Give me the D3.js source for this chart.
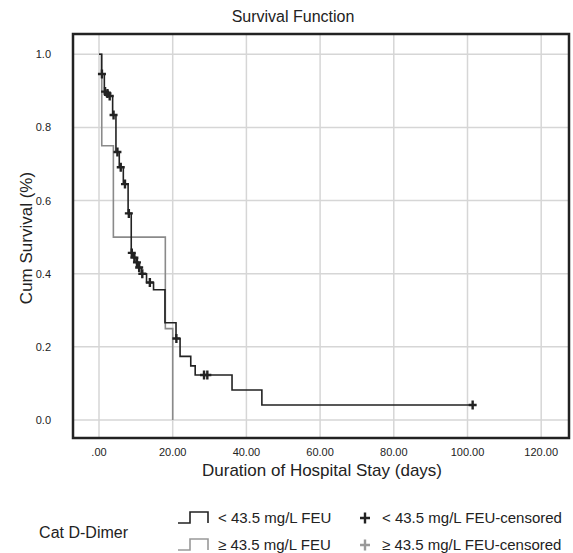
<!DOCTYPE html>
<html>
<head>
<meta charset="utf-8">
<script src="https://cdn.jsdelivr.net/npm/d3@7"></script>
<style>
  body { margin: 0; background: #fff; }
  text { font-family: "Liberation Sans", Arial, sans-serif; fill: #222; }
</style>
</head>
<body>
<svg width="573" height="553"></svg>
<script>
// tick values
var xTicks = [0, 20, 40, 60, 80, 100, 120];
var yTicks = [0, 0.2, 0.4, 0.6, 0.8, 1.0];

// < 43.5 mg/L FEU : step times and survival after each step
var lowTimes = [0, 0.7, 1.45, 2.1, 2.7, 3.7, 4.6, 5.5, 6.6, 7.9, 8.75, 9.4, 10.1, 10.7, 11.5, 12.9, 14.8, 17.9, 20.9, 22.0, 24.9, 26.1, 36.1, 44.2, 101.4];
var lowSurv  = [1.0, 0.946, 0.898, 0.893, 0.886, 0.834, 0.733, 0.691, 0.645, 0.565, 0.457, 0.444, 0.431, 0.417, 0.400, 0.376, 0.356, 0.266, 0.223, 0.174, 0.148, 0.123, 0.082, 0.041, 0.041];
// censored cases of the low group
var lowCensTimes = [0.8, 1.65, 2.3, 2.9, 3.95, 5.0, 5.9, 7.05, 8.1, 8.9, 9.6, 10.3, 10.9, 11.75, 13.8, 21.0, 28.5, 29.4, 101.4];
var lowCensSurv  = [0.946, 0.898, 0.893, 0.886, 0.834, 0.733, 0.691, 0.645, 0.565, 0.457, 0.444, 0.431, 0.417, 0.400, 0.376, 0.223, 0.123, 0.123, 0.041];

// >= 43.5 mg/L FEU
var highTimes = [0, 0.75, 3.9, 18.0, 20.0];
var highSurv  = [1.0, 0.75, 0.5, 0.25, 0.0];

var svg = d3.select("svg");

var x = d3.scaleLinear().domain([0, 120]).range([99, 541.2]);
var y = d3.scaleLinear().domain([0, 1]).range([420, 54.3]);

var frame = { left: 73, top: 34, right: 569, bottom: 438 };

// grid
svg.append("g")
  .selectAll("line").data(xTicks).enter()
  .append("line")
    .attr("x1", d => x(d)).attr("x2", d => x(d))
    .attr("y1", frame.top).attr("y2", frame.bottom)
    .attr("stroke", "#d6d6d6").attr("stroke-width", 1.5);

svg.append("g")
  .selectAll("line").data(yTicks).enter()
  .append("line")
    .attr("y1", d => y(d)).attr("y2", d => y(d))
    .attr("x1", frame.left).attr("x2", frame.right)
    .attr("stroke", "#d6d6d6").attr("stroke-width", 1.5);

// step curves
var step = d3.line().x(d => x(d[0])).y(d => y(d[1])).curve(d3.curveStepAfter);

svg.append("path")
  .datum(highTimes.map((t, i) => [t, highSurv[i]]))
  .attr("d", step)
  .attr("fill", "none")
  .attr("stroke", "#8a8a8a")
  .attr("stroke-width", 1.6);

svg.append("path")
  .datum(lowTimes.map((t, i) => [t, lowSurv[i]]))
  .attr("d", step)
  .attr("fill", "none")
  .attr("stroke", "#222")
  .attr("stroke-width", 1.6);

// censor marks
var plus = "M-4,0H4M0,-4.5V4.5";
svg.append("g")
  .selectAll("path")
  .data(lowCensTimes.map((t, i) => [t, lowCensSurv[i]]))
  .enter()
  .append("path")
    .attr("transform", d => `translate(${x(d[0])},${y(d[1])})`)
    .attr("d", plus)
    .attr("stroke", "#222")
    .attr("stroke-width", 2.4);

// frame
svg.append("rect")
  .attr("x", frame.left).attr("y", frame.top)
  .attr("width", frame.right - frame.left)
  .attr("height", frame.bottom - frame.top)
  .attr("fill", "none")
  .attr("stroke", "#222")
  .attr("stroke-width", 2.5);

// tick labels
svg.append("g")
  .selectAll("text").data(xTicks).enter()
  .append("text")
    .attr("x", d => x(d))
    .attr("y", 456)
    .attr("text-anchor", "middle")
    .style("font-size", "11px")
    .text(d => d === 0 ? ".00" : d3.format(".2f")(d));

svg.append("g")
  .selectAll("text").data(yTicks).enter()
  .append("text")
    .attr("x", 51)
    .attr("y", d => y(d) + 4)
    .attr("text-anchor", "end")
    .style("font-size", "11px")
    .text(d => d3.format(".1f")(d));

// titles
svg.append("text")
  .attr("x", 293).attr("y", 22)
  .attr("text-anchor", "middle")
  .style("font-size", "16px")
  .text("Survival Function");

svg.append("text")
  .attr("x", 322).attr("y", 476)
  .attr("text-anchor", "middle")
  .style("font-size", "17px")
  .text("Duration of Hospital Stay (days)");

svg.append("text")
  .attr("transform", "translate(32,238) rotate(-90)")
  .attr("text-anchor", "middle")
  .style("font-size", "17px")
  .text("Cum Survival (%)");

// legend
var legendRows = [
  { color: "#222", label: "< 43.5 mg/L FEU" },
  { color: "#999", label: "\u2265 43.5 mg/L FEU" }
];

svg.append("text")
  .attr("x", 128).attr("y", 538)
  .attr("text-anchor", "end")
  .style("font-size", "16px")
  .text("Cat D-Dimer");

var lg = svg.append("g")
  .selectAll("g").data(legendRows).enter()
  .append("g")
    .attr("transform", (d, i) => `translate(0,${523 + i * 27})`);

lg.append("path")
  .attr("d", "M178,0H190V-11H208V0")
  .attr("fill", "none")
  .attr("stroke", d => d.color)
  .attr("stroke-width", 1.6);

lg.append("text")
  .attr("x", 218).attr("y", 0)
  .style("font-size", "15px")
  .text(d => d.label);

lg.append("path")
  .attr("transform", "translate(365,-5)")
  .attr("d", "M-5,0H5M0,-5.5V5.5")
  .attr("stroke", d => d.color)
  .attr("stroke-width", 2.4);

lg.append("text")
  .attr("x", 382).attr("y", 0)
  .style("font-size", "15px")
  .text(d => d.label + "-censored");
</script>
</body>
</html>
